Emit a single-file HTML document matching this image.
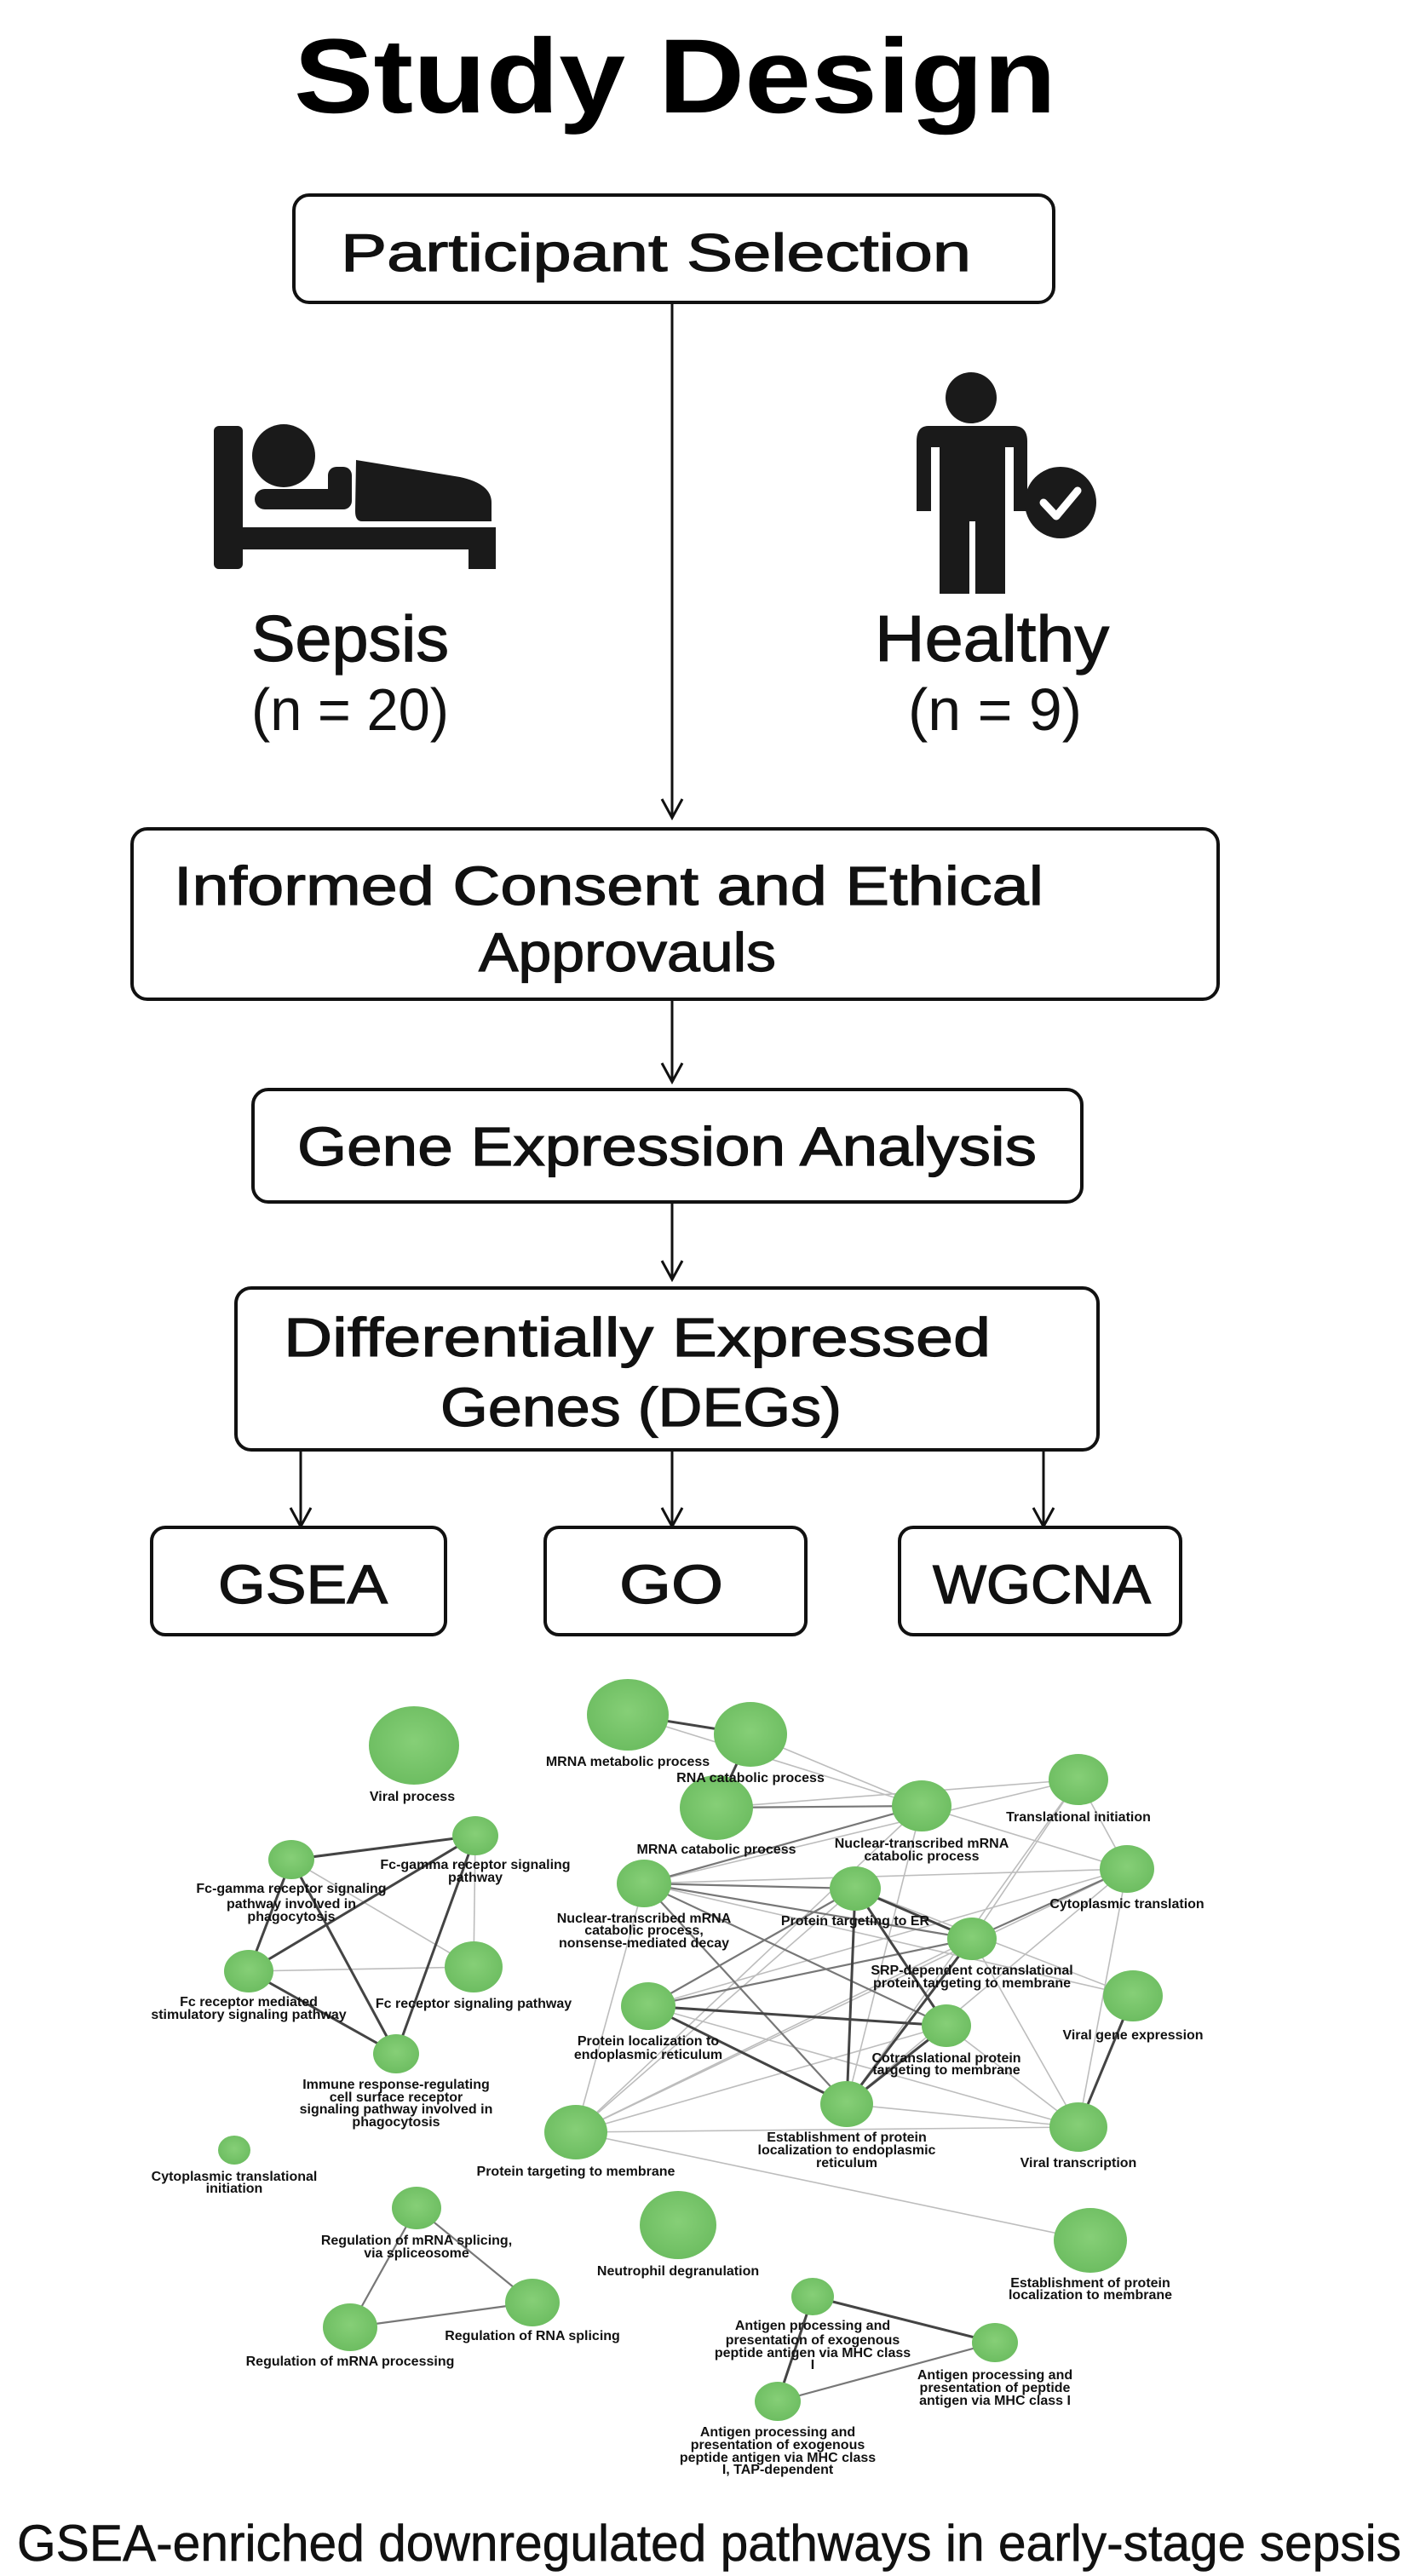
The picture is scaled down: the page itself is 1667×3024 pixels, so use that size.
<!DOCTYPE html>
<html><head><meta charset="utf-8"><style>
html,body{margin:0;padding:0;background:#fff;}
svg{display:block;}
.b{font-family:"Liberation Sans",sans-serif;}
.n{font-family:"Liberation Sans",sans-serif;font-weight:bold;font-size:16px;fill:#111;text-anchor:middle;}
</style></head><body>
<svg width="1667" height="3024" viewBox="0 0 1667 3024" xmlns="http://www.w3.org/2000/svg">
<defs>
<radialGradient id="g" cx="50%" cy="45%" r="55%"><stop offset="0" stop-color="#86cf77"/><stop offset="1" stop-color="#6dbd61"/></radialGradient>
</defs>
<rect width="1667" height="3024" fill="#fff"/>
<text class="b" x="345" y="132" font-size="124" font-weight="bold" textLength="895" lengthAdjust="spacingAndGlyphs">Study Design</text>

<g fill="none" stroke="#111" stroke-width="4">
<rect x="345" y="229" width="892" height="126" rx="18"/>
<rect x="155" y="973" width="1275" height="200" rx="18"/>
<rect x="297" y="1279" width="973" height="132" rx="18"/>
<rect x="277" y="1512" width="1012" height="190" rx="18"/>
<rect x="178" y="1793" width="345" height="126" rx="16"/>
<rect x="640" y="1793" width="306" height="126" rx="16"/>
<rect x="1056" y="1793" width="330" height="126" rx="16"/>
</g>
<g stroke="#111" stroke-width="3" fill="none">
<line x1="789" y1="355" x2="789" y2="958"/><polyline points="777,938 789,960 801,938"/>
<line x1="789" y1="1173" x2="789" y2="1268"/><polyline points="777,1248 789,1270 801,1248"/>
<line x1="789" y1="1411" x2="789" y2="1500"/><polyline points="777,1480 789,1502 801,1480"/>
<line x1="353" y1="1702" x2="353" y2="1790"/><polyline points="341,1770 353,1792 365,1770"/>
<line x1="789" y1="1702" x2="789" y2="1790"/><polyline points="777,1770 789,1792 801,1770"/>
<line x1="1225" y1="1702" x2="1225" y2="1790"/><polyline points="1213,1770 1225,1792 1237,1770"/>
</g>
<g class="b" fill="#111" stroke="#111" stroke-width="1.2">
<text x="400" y="318" font-size="62" textLength="740" lengthAdjust="spacingAndGlyphs">Participant Selection</text>
<text x="295" y="776" font-size="76" textLength="232" lengthAdjust="spacingAndGlyphs">Sepsis</text>
<text x="295" y="857" font-size="70" stroke-width="0" textLength="232" lengthAdjust="spacingAndGlyphs">(n = 20)</text>
<text x="1027" y="776" font-size="76" textLength="275" lengthAdjust="spacingAndGlyphs">Healthy</text>
<text x="1066" y="857" font-size="70" stroke-width="0" textLength="204" lengthAdjust="spacingAndGlyphs">(n = 9)</text>
<text x="204" y="1062" font-size="64" textLength="1021" lengthAdjust="spacingAndGlyphs">Informed Consent and Ethical</text>
<text x="562" y="1140" font-size="64" textLength="349" lengthAdjust="spacingAndGlyphs">Approvauls</text>
<text x="349" y="1368" font-size="64" textLength="868" lengthAdjust="spacingAndGlyphs">Gene Expression Analysis</text>
<text x="333" y="1592" font-size="64" textLength="830" lengthAdjust="spacingAndGlyphs">Differentially Expressed</text>
<text x="517" y="1674" font-size="64" textLength="471" lengthAdjust="spacingAndGlyphs">Genes (DEGs)</text>
<text x="256" y="1882" font-size="64" textLength="199" lengthAdjust="spacingAndGlyphs">GSEA</text>
<text x="727" y="1882" font-size="64" textLength="122" lengthAdjust="spacingAndGlyphs">GO</text>
<text x="1095" y="1882" font-size="64" textLength="256" lengthAdjust="spacingAndGlyphs">WGCNA</text>
<text x="20" y="3006" font-size="60" stroke-width="0.6" textLength="1625" lengthAdjust="spacingAndGlyphs">GSEA-enriched downregulated pathways in early-stage sepsis</text>
</g>

<!-- bed -->
<g fill="#1a1a1a">
<rect x="251" y="500" width="34" height="168" rx="6"/>
<rect x="251" y="619" width="331" height="26" rx="3"/>
<rect x="550" y="619" width="32" height="49"/>
<circle cx="333" cy="535" r="37"/>
<rect x="299" y="574" width="112" height="24" rx="12"/>
<rect x="385" y="548" width="28" height="50" rx="10"/>
<path d="M418,540 L540,560 Q577,568 577,590 L577,612 L425,612 Q417,612 417,600 Z"/>
</g>
<!-- person -->
<g fill="#1a1a1a">
<circle cx="1140" cy="467" r="30"/>
<path d="M1090,500 L1190,500 Q1206,500 1206,518 L1206,600 L1190,600 L1190,525 L1180,525 L1180,697 L1145,697 L1145,612 L1138,612 L1138,697 L1103,697 L1103,525 L1093,525 L1093,600 L1076,600 L1076,518 Q1076,500 1090,500 Z"/>
<circle cx="1245" cy="590" r="42"/>
</g>
<polyline points="1225,590 1240,606 1265,576" fill="none" stroke="#fff" stroke-width="9" stroke-linecap="round" stroke-linejoin="round"/>

<g stroke="#bdbdbd" stroke-width="1.6" fill="none">
<line x1="737" y1="2013" x2="1082" y2="2120"/><line x1="881" y1="2036" x2="1082" y2="2120"/>
<line x1="841" y1="2122" x2="1266" y2="2089"/><line x1="756" y1="2211" x2="1266" y2="2089"/>
<line x1="1082" y1="2120" x2="1323" y2="2194"/><line x1="1266" y1="2089" x2="1323" y2="2194"/>
<line x1="1266" y1="2089" x2="1141" y2="2276"/><line x1="1323" y1="2194" x2="1266" y2="2497"/>
<line x1="1323" y1="2194" x2="994" y2="2470"/><line x1="1266" y1="2089" x2="994" y2="2470"/>
<line x1="676" y1="2503" x2="1280" y2="2630"/><line x1="676" y1="2503" x2="756" y2="2211"/>
<line x1="676" y1="2503" x2="1004" y2="2217"/><line x1="676" y1="2503" x2="1141" y2="2276"/>
<line x1="676" y1="2503" x2="1111" y2="2378"/><line x1="676" y1="2503" x2="1266" y2="2497"/>
<line x1="676" y1="2503" x2="1323" y2="2194"/><line x1="676" y1="2503" x2="1082" y2="2120"/>
<line x1="761" y1="2355" x2="1266" y2="2497"/><line x1="1141" y1="2276" x2="1266" y2="2497"/>
<line x1="1111" y1="2378" x2="1266" y2="2497"/><line x1="1004" y1="2217" x2="1330" y2="2343"/>
<line x1="756" y1="2211" x2="1330" y2="2343"/><line x1="1082" y1="2120" x2="994" y2="2470"/>
<line x1="292" y1="2314" x2="556" y2="2309"/><line x1="342" y1="2183" x2="556" y2="2309"/>
<line x1="558" y1="2155" x2="556" y2="2309"/><line x1="756" y1="2211" x2="1323" y2="2194"/>
<line x1="994" y1="2470" x2="1266" y2="2497"/><line x1="761" y1="2355" x2="1323" y2="2194"/>
</g>
<g stroke="#777" stroke-width="2.2" fill="none">
<line x1="841" y1="2122" x2="1082" y2="2120"/><line x1="756" y1="2211" x2="1082" y2="2120"/>
<line x1="756" y1="2211" x2="1004" y2="2217"/><line x1="756" y1="2211" x2="1141" y2="2276"/>
<line x1="756" y1="2211" x2="1111" y2="2378"/><line x1="756" y1="2211" x2="994" y2="2470"/>
<line x1="761" y1="2355" x2="1141" y2="2276"/><line x1="1004" y1="2217" x2="1111" y2="2378"/>
<line x1="1141" y1="2276" x2="1323" y2="2194"/><line x1="1004" y1="2217" x2="761" y2="2355"/>
<line x1="411" y1="2732" x2="625" y2="2703"/><line x1="489" y1="2592" x2="411" y2="2732"/>
<line x1="489" y1="2592" x2="625" y2="2703"/>
<line x1="913" y1="2819" x2="1168" y2="2750"/>
</g>
<g stroke="#444" stroke-width="3" fill="none">
<line x1="737" y1="2013" x2="881" y2="2036"/><line x1="881" y1="2036" x2="841" y2="2122"/>
<line x1="342" y1="2183" x2="558" y2="2155"/><line x1="342" y1="2183" x2="292" y2="2314"/>
<line x1="342" y1="2183" x2="465" y2="2411"/><line x1="558" y1="2155" x2="465" y2="2411"/>
<line x1="292" y1="2314" x2="465" y2="2411"/><line x1="292" y1="2314" x2="558" y2="2155"/>
<line x1="1004" y1="2217" x2="994" y2="2470"/><line x1="1004" y1="2217" x2="1141" y2="2276"/>
<line x1="761" y1="2355" x2="1111" y2="2378"/><line x1="761" y1="2355" x2="994" y2="2470"/>
<line x1="1141" y1="2276" x2="994" y2="2470"/><line x1="1111" y1="2378" x2="994" y2="2470"/>
<line x1="1004" y1="2217" x2="1111" y2="2378"/><line x1="1330" y1="2343" x2="1266" y2="2497"/>
<line x1="954" y1="2696" x2="1168" y2="2750"/><line x1="954" y1="2696" x2="913" y2="2819"/>
</g>
<g fill="url(#g)">
<ellipse cx="486" cy="2049" rx="53" ry="46"/>
<ellipse cx="737" cy="2013" rx="48" ry="42"/>
<ellipse cx="881" cy="2036" rx="43" ry="38"/>
<ellipse cx="841" cy="2122" rx="43" ry="38"/>
<ellipse cx="1082" cy="2120" rx="35" ry="30"/>
<ellipse cx="1266" cy="2089" rx="35" ry="30"/>
<ellipse cx="1323" cy="2194" rx="32" ry="28"/>
<ellipse cx="756" cy="2211" rx="32" ry="28"/>
<ellipse cx="1004" cy="2217" rx="30" ry="26"/>
<ellipse cx="1141" cy="2276" rx="29" ry="25"/>
<ellipse cx="1330" cy="2343" rx="35" ry="30"/>
<ellipse cx="761" cy="2355" rx="32" ry="28"/>
<ellipse cx="1111" cy="2378" rx="29" ry="25"/>
<ellipse cx="994" cy="2470" rx="31" ry="27"/>
<ellipse cx="1266" cy="2497" rx="34" ry="29"/>
<ellipse cx="676" cy="2503" rx="37" ry="32"/>
<ellipse cx="558" cy="2155" rx="27" ry="23"/>
<ellipse cx="342" cy="2183" rx="27" ry="23"/>
<ellipse cx="292" cy="2314" rx="29" ry="25"/>
<ellipse cx="556" cy="2309" rx="34" ry="30"/>
<ellipse cx="465" cy="2411" rx="27" ry="23"/>
<ellipse cx="275" cy="2524" rx="19" ry="17"/>
<ellipse cx="489" cy="2592" rx="29" ry="25"/>
<ellipse cx="625" cy="2703" rx="32" ry="28"/>
<ellipse cx="411" cy="2732" rx="32" ry="28"/>
<ellipse cx="796" cy="2612" rx="45" ry="40"/>
<ellipse cx="1280" cy="2630" rx="43" ry="38"/>
<ellipse cx="954" cy="2696" rx="25" ry="22"/>
<ellipse cx="1168" cy="2750" rx="27" ry="23"/>
<ellipse cx="913" cy="2819" rx="27" ry="23"/>
</g>
<g class="n">
<text x="484" y="2114">Viral process</text>
<text x="737" y="2073">MRNA metabolic process</text>
<text x="881" y="2092">RNA catabolic process</text>
<text x="841" y="2176">MRNA catabolic process</text>
<text x="1082" y="2169">Nuclear-transcribed mRNA</text><text x="1082" y="2184">catabolic process</text>
<text x="1266" y="2138">Translational initiation</text>
<text x="1323" y="2240">Cytoplasmic translation</text>
<text x="756" y="2257">Nuclear-transcribed mRNA</text><text x="756" y="2271">catabolic process,</text><text x="756" y="2286">nonsense-mediated decay</text>
<text x="1004" y="2260">Protein targeting to ER</text>
<text x="1141" y="2318">SRP-dependent cotranslational</text><text x="1141" y="2333">protein targeting to membrane</text>
<text x="1330" y="2394">Viral gene expression</text>
<text x="761" y="2401">Protein localization to</text><text x="761" y="2417">endoplasmic reticulum</text>
<text x="1111" y="2421">Cotranslational protein</text><text x="1111" y="2435">targeting to membrane</text>
<text x="994" y="2514">Establishment of protein</text><text x="994" y="2529">localization to endoplasmic</text><text x="994" y="2544">reticulum</text>
<text x="1266" y="2544">Viral transcription</text>
<text x="676" y="2554">Protein targeting to membrane</text>
<text x="558" y="2194">Fc-gamma receptor signaling</text><text x="558" y="2209">pathway</text>
<text x="342" y="2222">Fc-gamma receptor signaling</text><text x="342" y="2240">pathway involved in</text><text x="342" y="2255">phagocytosis</text>
<text x="292" y="2355">Fc receptor mediated</text><text x="292" y="2370">stimulatory signaling pathway</text>
<text x="556" y="2357">Fc receptor signaling pathway</text>
<text x="465" y="2452">Immune response-regulating</text><text x="465" y="2467">cell surface receptor</text><text x="465" y="2481">signaling pathway involved in</text><text x="465" y="2496">phagocytosis</text>
<text x="275" y="2560">Cytoplasmic translational</text><text x="275" y="2574">initiation</text>
<text x="489" y="2635">Regulation of mRNA splicing,</text><text x="489" y="2650">via spliceosome</text>
<text x="625" y="2747">Regulation of RNA splicing</text>
<text x="411" y="2777">Regulation of mRNA processing</text>
<text x="796" y="2671">Neutrophil degranulation</text>
<text x="1280" y="2685">Establishment of protein</text><text x="1280" y="2699">localization to membrane</text>
<text x="954" y="2735">Antigen processing and</text><text x="954" y="2752">presentation of exogenous</text><text x="954" y="2767">peptide antigen via MHC class</text><text x="954" y="2781">I</text>
<text x="1168" y="2793">Antigen processing and</text><text x="1168" y="2808">presentation of peptide</text><text x="1168" y="2823">antigen via MHC class I</text>
<text x="913" y="2860">Antigen processing and</text><text x="913" y="2875">presentation of exogenous</text><text x="913" y="2890">peptide antigen via MHC class</text><text x="913" y="2904">I, TAP-dependent</text>
</g>
</svg>
</body></html>
